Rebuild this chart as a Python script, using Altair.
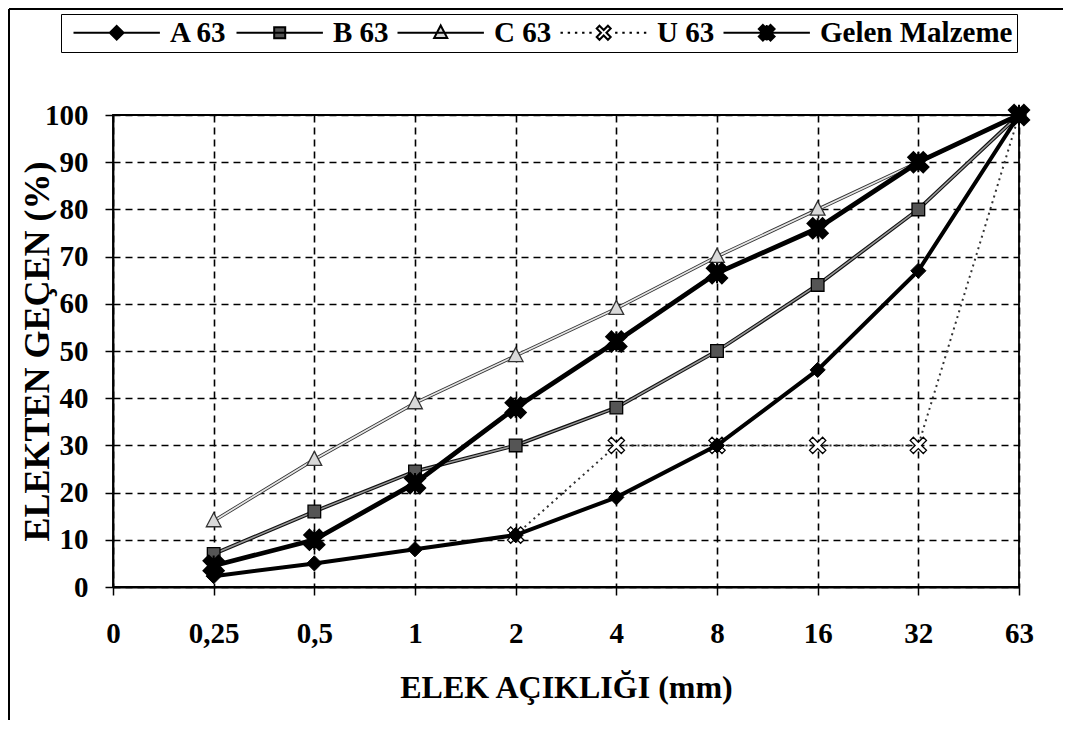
import altair as alt
import pandas as pd
import numpy as np

# ---------------- data ----------------
sieves = ["0", "0,25", "0,5", "1", "2", "4", "8", "16", "32", "63"]
series_names = ["A 63", "B 63", "C 63", "U 63", "Gelen Malzeme"]

full_x = ["0,25", "0,5", "1", "2", "4", "8", "16", "32", "63"]
a63_y = [2.3, 5, 8, 11, 19, 30, 46, 67, 100]
b63_y = [7, 16, 24.5, 30, 38, 50, 64, 80, 100]
c63_y = [14, 27, 39, 49, 59, 70, 80, 90, 100]
u63_x = ["2", "4", "8", "16", "32", "63"]
u63_y = [11, 30, 30, 30, 30, 100]
gelen_y = [4.5, 10, 22, 38, 52, 66.5, 76, 90, 100]

series_x = {"A 63": full_x, "B 63": full_x, "C 63": full_x, "U 63": u63_x, "Gelen Malzeme": full_x}
series_y = {"A 63": a63_y, "B 63": b63_y, "C 63": c63_y, "U 63": u63_y, "Gelen Malzeme": gelen_y}

rows = []
for s in series_names:
    for xv, yv in zip(series_x[s], series_y[s]):
        rows.append({"series": s, "sieve": xv, "value": yv, "idx": sieves.index(xv)})
df = pd.DataFrame(rows)

# ---------------- styles ----------------
def poly(pts, s=1.0, dx=0.0):
    return "M" + "L".join(f"{x*s+dx:.3f},{y*s:.3f}" for x, y in pts) + "Z"

def xcross_pts(r, w):
    plus = [(-r, -w), (-w, -w), (-w, -r), (w, -r), (w, -w), (r, -w),
            (r, w), (w, w), (w, r), (-w, r), (-w, w), (-r, w)]
    c = np.sqrt(0.5)
    return [((x - y) * c, (x + y) * c) for x, y in plus]

DIAMOND = [(0, -1), (1, 0), (0, 1), (-1, 0)]
SQUARE = [(-0.8, -0.8), (0.8, -0.8), (0.8, 0.8), (-0.8, 0.8)]
TRIANGLE = [(0, -1.05), (0.95, 0.75), (-0.95, 0.75)]
XOPEN = xcross_pts(1.15, 0.28)
XBOLD = xcross_pts(1.15, 0.4)

marker_path = {
    "A 63": poly(DIAMOND),
    "B 63": poly(SQUARE),
    "C 63": poly(TRIANGLE),
    "U 63": poly(XOPEN),
    "Gelen Malzeme": poly(XBOLD) + "M0,-1.1V1.1",
}

# legend symbols: a line segment with the marker in its middle (path units, 1 unit = 6 px)
L0, L1 = -1.0, 13.4
MID = (L0 + L1) / 2
LINE = f"M{L0},0H{L1}"
dot_starts = list(np.arange(L0, MID - 1.7, 1.2)) + list(np.arange(MID + 1.9, L1, 1.2))
DOTS = "".join(f"M{a:.2f},0H{a+0.4:.2f}" for a in dot_starts)
legend_path = {
    "A 63": LINE + poly(DIAMOND, 1.15, MID),
    "B 63": LINE + poly(SQUARE, 1.15, MID),
    "C 63": LINE + poly(TRIANGLE, 1.15, MID),
    "U 63": DOTS + poly(XOPEN, 1.15, MID),
    "Gelen Malzeme": LINE + poly(XBOLD, 1.2, MID) + f"M{MID},-1.3V1.3",
}
legend_fill = {"A 63": "black", "B 63": "#555555", "C 63": "#d9d9d9", "U 63": "white", "Gelen Malzeme": "black"}

line_styles = {
    "U 63": [dict(color="#333333", strokeWidth=2, strokeDash=[2, 4])],
    "C 63": [dict(color="#333333", strokeWidth=3.4), dict(color="#e6e6e6", strokeWidth=1.7)],
    "B 63": [dict(color="#111111", strokeWidth=3.8), dict(color="#9a9a9a", strokeWidth=1.5)],
    "A 63": [dict(color="black", strokeWidth=4)],
    "Gelen Malzeme": [dict(color="black", strokeWidth=4.8)],
}
point_styles = {
    "U 63": dict(size=260, fill="white", stroke="black", strokeWidth=1.3),
    "C 63": dict(size=240, fill="#d9d9d9", stroke="#333333", strokeWidth=1.3),
    "B 63": dict(size=250, fill="#555555", stroke="black", strokeWidth=1.3),
    "A 63": dict(size=230, fill="black", stroke="black", strokeWidth=1),
    "Gelen Malzeme": dict(size=340, fill="black", stroke="black", strokeWidth=2),
}

FONT = "Liberation Serif"

x_enc = alt.X("sieve:O", sort=sieves,
              scale=alt.Scale(type="point", domain=sieves, padding=0),
              axis=alt.Axis(title="ELEK AÇIKLIĞI (mm)", labelAngle=0))
y_enc = alt.Y("value:Q", scale=alt.Scale(domain=[0, 100], nice=False),
              axis=alt.Axis(title="ELEKTEN GEÇEN (%)", values=list(range(0, 101, 10))))

base = alt.Chart(df)
layers = []
for s in ["U 63", "C 63", "B 63", "A 63", "Gelen Malzeme"]:
    sub = base.transform_filter(alt.datum.series == s)
    for ls in line_styles[s]:
        layers.append(sub.mark_line(**ls).encode(x=x_enc, y=y_enc, order=alt.Order("idx:Q")))
    ps = point_styles[s]
    layers.append(sub.mark_point(shape=marker_path[s], filled=True, opacity=1, **ps).encode(x=x_enc, y=y_enc))

legend_def = alt.Legend(title=None, orient="none", legendX=-52, legendY=-101, direction="horizontal",
                        labelFont=FONT, labelFontSize=29, labelFontWeight="bold", labelColor="black",
                        labelLimit=400, symbolSize=144, symbolStrokeWidth=2, symbolOpacity=1,
                        labelOffset=76, columnPadding=0, padding=4, strokeColor="black", fillColor="white")
legend_layer = alt.Chart(df).transform_filter("false").mark_point(filled=True, strokeWidth=2, size=144, opacity=1).encode(
    x=x_enc, y=y_enc,
    shape=alt.Shape("series:N", scale=alt.Scale(domain=series_names, range=[legend_path[s] for s in series_names]), legend=legend_def),
    fill=alt.Fill("series:N", scale=alt.Scale(domain=series_names, range=[legend_fill[s] for s in series_names]), legend=legend_def),
    stroke=alt.Stroke("series:N", scale=alt.Scale(domain=series_names, range=["black"] * len(series_names)), legend=legend_def),
)

frame_df = pd.DataFrame({"k": [0]})
frame_v = alt.Chart(frame_df).mark_rule(color="black", strokeWidth=2).encode(
    x=alt.value(-104), y=alt.value(-106), y2=alt.value(605))
frame_h = alt.Chart(frame_df).mark_rule(color="black", strokeWidth=2).encode(
    x=alt.value(-104), x2=alt.value(950), y=alt.value(-106))

chart = alt.layer(*layers, legend_layer, frame_v, frame_h).properties(
    width=906, height=472, padding=0, background="white"
).configure_view(stroke="black", strokeWidth=1.8).configure_axis(
    labelFont=FONT, labelFontWeight="bold", labelFontSize=29, labelColor="black",
    titleFont=FONT, titleFontWeight="bold", titleColor="black",
    domainColor="black", domainWidth=1.8, tickColor="black", tickSize=8, tickWidth=1.5,
    grid=True, gridColor="black", gridDash=[7, 5], gridWidth=1.6, gridOpacity=1,
).configure_axisX(labelPadding=24, titlePadding=24, titleFontSize=32).configure_axisY(
    labelPadding=17, titlePadding=-12, titleFontSize=36)

chart.save("out.html", embed_options={"renderer": "svg", "actions": False})
